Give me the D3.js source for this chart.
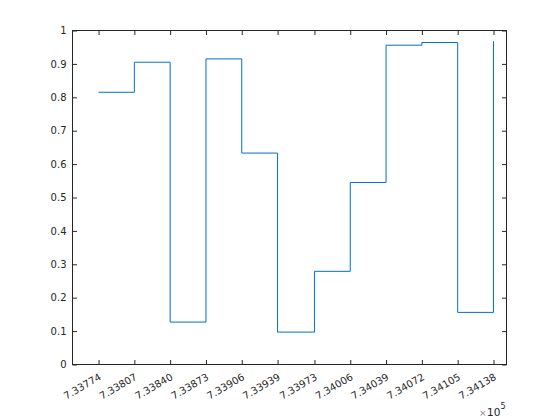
<!DOCTYPE html>
<html>
<head>
<meta charset="utf-8">
<script src="https://cdn.jsdelivr.net/npm/d3@7"></script>
<style>
  html, body { margin: 0; padding: 0; background: #fff; }
  svg { display: block; }
  text { font-family: "DejaVu Sans", sans-serif; }
</style>
</head>
<body>
<script>
// Data (x as date numbers, y values of the stairs)
const xValues = [733774, 733807, 733840, 733873, 733906, 733939, 733973, 734006, 734039, 734072, 734105, 734138];
const yValues = [0.815, 0.905, 0.127, 0.915, 0.633, 0.097, 0.279, 0.545, 0.956, 0.964, 0.156, 0.968];
const xTickValues = [733774, 733807, 733840, 733873, 733906, 733939, 733973, 734006, 734039, 734072, 734105, 734138];
const xTickLabels = ["7.33774", "7.33807", "7.33840", "7.33873", "7.33906", "7.33939", "7.33973", "7.34006", "7.34039", "7.34072", "7.34105", "7.34138"];
const yTickValues = [0, 0.1, 0.2, 0.3, 0.4, 0.5, 0.6, 0.7, 0.8, 0.9, 1];
const yTickLabels = ["0", "0.1", "0.2", "0.3", "0.4", "0.5", "0.6", "0.7", "0.8", "0.9", "1"];
const exponentLabel = "5";

(function () {
const W = 560, H = 420;
const mLeft = 72.5, mRight = 506.5, mTop = 30.5, mBottom = 364.5;
const axisColor = "#262626";
const lineColor = "#0072BD";
const tickLen = 4.5;

const svg = d3.select("body").append("svg").attr("width", W).attr("height", H);

const x = d3.scaleLinear().domain([733750, 734150]).range([mLeft, mRight]);
const y = d3.scaleLinear().domain([0, 1]).range([mBottom, mTop]);

// Box
svg.append("rect").attr("x", mLeft).attr("y", mTop).attr("width", mRight - mLeft).attr("height", mBottom - mTop)
  .attr("fill", "none").attr("stroke", axisColor).attr("stroke-width", 1);

// Bottom axis
const xAxis = d3.axisBottom(x).tickValues(xTickValues).tickSize(-tickLen).tickFormat((d, i) => xTickLabels[i]);
const gx = svg.append("g").attr("transform", `translate(0,${mBottom})`).call(xAxis);
gx.select(".domain").remove();
gx.selectAll(".tick line").attr("stroke", axisColor);
gx.selectAll(".tick text")
  .attr("fill", axisColor).attr("font-size", 10)
  .attr("text-anchor", "end").attr("dy", null).attr("y", null)
  .attr("transform", "translate(3,14.5) rotate(-30)");

// Top ticks
const gxt = svg.append("g").attr("transform", `translate(0,${mTop})`)
  .call(d3.axisTop(x).tickValues(xTickValues).tickSize(-tickLen).tickFormat(""));
gxt.select(".domain").remove();
gxt.selectAll(".tick line").attr("stroke", axisColor);

// Left axis
const yAxis = d3.axisLeft(y).tickValues(yTickValues).tickSize(-tickLen).tickPadding(6).tickFormat((d, i) => yTickLabels[i]);
const gy = svg.append("g").attr("transform", `translate(${mLeft},0)`).call(yAxis);
gy.select(".domain").remove();
gy.selectAll(".tick line").attr("stroke", axisColor);
gy.selectAll(".tick text").attr("fill", axisColor).attr("font-size", 10);

// Right ticks
const gyr = svg.append("g").attr("transform", `translate(${mRight},0)`)
  .call(d3.axisRight(y).tickValues(yTickValues).tickSize(-tickLen).tickFormat(""));
gyr.select(".domain").remove();
gyr.selectAll(".tick line").attr("stroke", axisColor);

// Stairs
const data = xValues.map((v, i) => [v, yValues[i]]);
const line = d3.line().x(d => x(d[0])).y(d => y(d[1])).curve(d3.curveStepAfter);
svg.append("path").datum(data).attr("d", line)
  .attr("fill", "none").attr("stroke", lineColor).attr("stroke-width", 1);

// Exponent label
const ex = svg.append("text").attr("x", 479).attr("y", 416).attr("fill", axisColor);
ex.append("tspan").attr("font-size", 9).attr("fill", "#888").text("×");
ex.append("tspan").attr("font-size", 10.5).attr("dx", 0.5).text("10");
ex.append("tspan").attr("font-size", 8).attr("dy", -7).text(exponentLabel);
})();
</script>
</body>
</html>
